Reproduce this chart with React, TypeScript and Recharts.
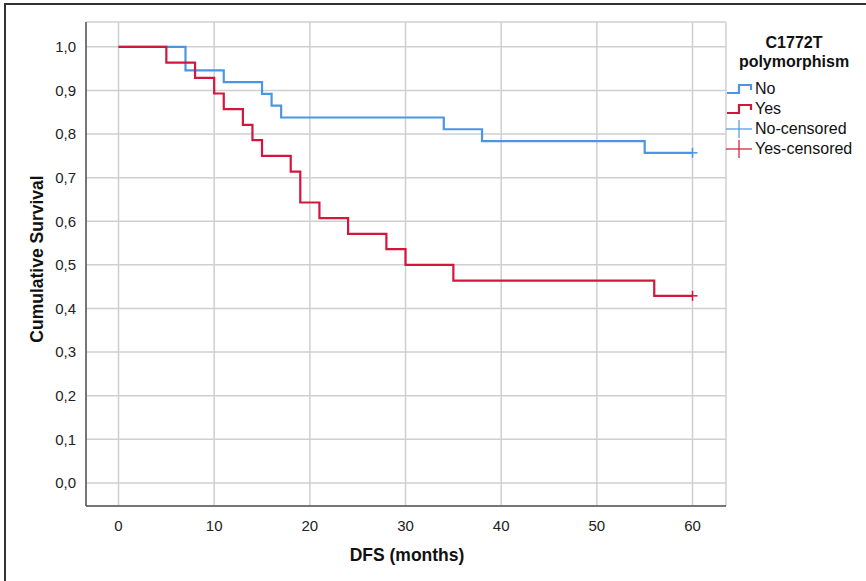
import React from 'react';
import {
  CartesianGrid,
  ComposedChart,
  Label,
  Line,
  Scatter,
  XAxis,
  YAxis,
} from 'recharts';

// DFS in months, cumulative survival (Kaplan-Meier steps)
const noTimes = [0, 7, 11, 15, 16, 17, 34, 38, 55, 60];
const noSurvival = [1, 0.946, 0.919, 0.892, 0.865, 0.838, 0.811, 0.784, 0.757, 0.757];
const yesTimes = [0, 5, 8, 10, 11, 13, 14, 15, 18, 19, 21, 24, 28, 30, 35, 56, 60];
const yesSurvival = [
  1, 0.964, 0.929, 0.893, 0.857, 0.821, 0.786, 0.75, 0.714, 0.643, 0.607, 0.571, 0.536,
  0.5, 0.464, 0.429, 0.429,
];
const noCensored = [{ t: 60, s: 0.757 }];
const yesCensored = [{ t: 60, s: 0.429 }];

const xTicks = [0, 10, 20, 30, 40, 50, 60];
const yTicks = [0, 0.1, 0.2, 0.3, 0.4, 0.5, 0.6, 0.7, 0.8, 0.9, 1];

const BLUE = '#4b95e5';
const RED = '#d3163c';
const FONT = '"Liberation Sans", Arial, sans-serif';

const noData = noTimes.map((t, i) => ({ t, s: noSurvival[i] }));
const yesData = yesTimes.map((t, i) => ({ t, s: yesSurvival[i] }));

const plus = (color) => (props) => {
  const { cx, cy } = props;
  return (
    <g stroke={color} strokeWidth={1.5}>
      <line x1={cx - 5} y1={cy} x2={cx + 5} y2={cy} />
      <line x1={cx} y1={cy - 5} x2={cx} y2={cy + 5} />
    </g>
  );
};

const StepIcon = ({ color }) => (
  <svg width={28} height={16} style={{ display: 'block' }}>
    <polyline
      points="1,12 13,12 13,4 25,4 25,9"
      fill="none"
      stroke={color}
      strokeWidth={2.2}
    />
  </svg>
);

const PlusIcon = ({ color }) => (
  <svg width={28} height={20} style={{ display: 'block' }}>
    <line x1={0} y1={10} x2={26} y2={10} stroke={color} strokeWidth={1.2} />
    <line x1={13} y1={1} x2={13} y2={19} stroke={color} strokeWidth={1.2} />
  </svg>
);

const legendItems = [
  { label: 'No', icon: <StepIcon color={BLUE} /> },
  { label: 'Yes', icon: <StepIcon color={RED} /> },
  { label: 'No-censored', icon: <PlusIcon color={BLUE} /> },
  { label: 'Yes-censored', icon: <PlusIcon color={RED} /> },
];

const fmt = (v) => v.toFixed(1).replace('.', ',');

export default function App() {
  return (
    <div
      style={{
        position: 'absolute',
        left: 4,
        top: 3,
        width: 900,
        height: 600,
        borderLeft: '2px solid #333',
        borderTop: '2px solid #333',
        background: '#fff',
        fontFamily: FONT,
      }}
    >
      <ComposedChart
        width={880}
        height={590}
        margin={{ top: 17, right: 160, bottom: 59, left: 20 }}
      >
        <CartesianGrid stroke="#cfcfcf" strokeWidth={1.5} />
        <XAxis
          type="number"
          dataKey="t"
          domain={[-3.4, 63.5]}
          ticks={xTicks}
          allowDataOverflow
          tickLine={false}
          axisLine={{ stroke: '#555', strokeWidth: 1.5 }}
          tick={{ fill: '#222', fontSize: 15, fontFamily: FONT }}
          tickMargin={8}
          height={30}
        >
          <Label
            content={() => (
              <text
                x={401}
                y={556}
                textAnchor="middle"
                fontFamily={FONT}
                fontWeight="bold"
                fontSize={17.5}
                fill="#111"
              >
                DFS (months)
              </text>
            )}
          />
        </XAxis>
        <YAxis
          type="number"
          dataKey="s"
          domain={[-0.053, 1.057]}
          ticks={yTicks}
          allowDataOverflow
          tickFormatter={fmt}
          tickLine={false}
          axisLine={{ stroke: '#555', strokeWidth: 1.5 }}
          tick={{ fill: '#222', fontSize: 15, fontFamily: FONT }}
          tickMargin={4}
          width={60}
        >
          <Label
            content={() => (
              <text
                x={37}
                y={254}
                transform="rotate(-90 37 254)"
                textAnchor="middle"
                fontFamily={FONT}
                fontWeight="bold"
                fontSize={17.5}
                fill="#111"
              >
                Cumulative Survival
              </text>
            )}
          />
        </YAxis>
        <Line
          data={noData}
          dataKey="s"
          type="stepAfter"
          stroke={BLUE}
          strokeWidth={2.2}
          dot={false}
          isAnimationActive={false}
        />
        <Line
          data={yesData}
          dataKey="s"
          type="stepAfter"
          stroke={RED}
          strokeWidth={2.2}
          dot={false}
          isAnimationActive={false}
        />
        <Scatter data={noCensored} dataKey="s" shape={plus(BLUE)} isAnimationActive={false} />
        <Scatter data={yesCensored} dataKey="s" shape={plus(RED)} isAnimationActive={false} />
      </ComposedChart>
      <div
        style={{
          position: 'absolute',
          left: 720,
          top: 28,
          width: 140,
          fontSize: 16,
          color: '#111',
        }}
      >
        <div
          style={{
            textAlign: 'center',
            fontWeight: 'bold',
            lineHeight: '19px',
            marginBottom: 8,
            marginLeft: -4,
          }}
        >
          C1772T
          <br />
          polymorphism
        </div>
        {legendItems.map((it) => (
          <div
            key={it.label}
            style={{ display: 'flex', alignItems: 'center', height: 20 }}
          >
            {it.icon}
            <span style={{ marginLeft: 1 }}>{it.label}</span>
          </div>
        ))}
      </div>
    </div>
  );
}
